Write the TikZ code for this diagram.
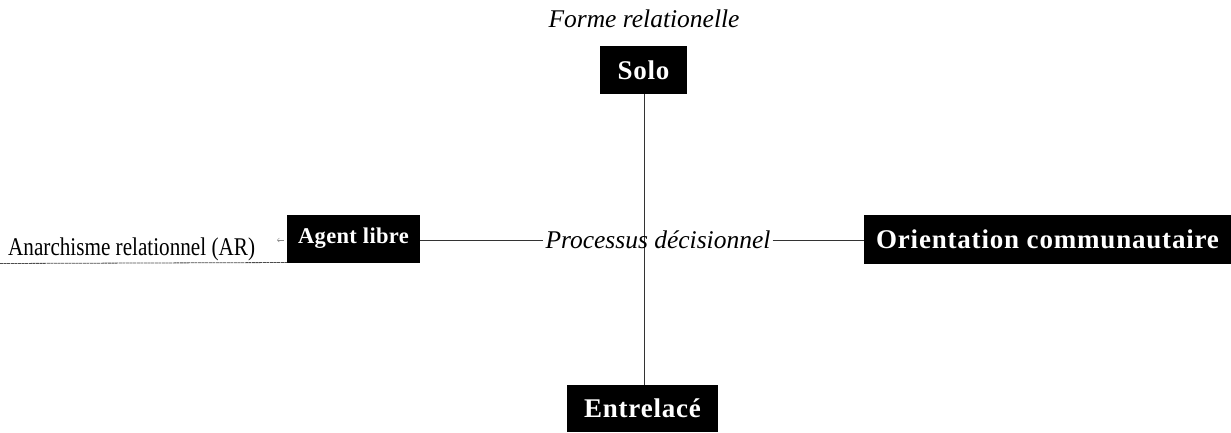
\documentclass[tikz,border=0pt]{standalone}
\usepackage{fontspec}
\usetikzlibrary{arrows.meta}
\setmainfont{Liberation Serif}
\newfontfamily\boxfont[LetterSpace=3]{Liberation Serif}
\newfontfamily\narrowfont[FakeStretch=0.83]{Liberation Serif}
\newfontfamily\agentfont[LetterSpace=1.5]{Liberation Serif}
\begin{document}
\begin{tikzpicture}[x=1bp,y=-1bp,
  blackbox/.style={fill=black,text=white,inner sep=0pt,minimum height=48bp,
     font=\boxfont\bfseries\fontsize{27bp}{30bp}\selectfont},
  itlabel/.style={inner sep=1bp,font=\itshape\fontsize{25.5bp}{28bp}\selectfont},
  conn/.style={draw=black!80,line width=0.9bp}]
\useasboundingbox (0,0) rectangle (1231,432);
\node[blackbox,minimum width=87bp] (solo) at (643.5,70) {Solo};
\node[blackbox,minimum width=133bp,font=\agentfont\bfseries\fontsize{22.5bp}{26bp}\selectfont] (agent) at (353.5,238.5) {Agent libre};
\node[blackbox,minimum width=367bp,minimum height=49bp] (orient) at (1047.5,239.5) {Orientation communautaire};
\node[blackbox,minimum width=151bp,minimum height=47bp] (entre) at (642.5,408.5) {Entrelacé};
\node[itlabel] (forme) at (644,19) {Forme relationelle};
\draw[conn] (solo.south -| 644,0) -- (entre.north -| 644,0);
\node[itlabel,inner sep=2bp] (proc) at (658,240) {Processus décisionnel};
\draw[conn] (agent.east |- proc) -- (proc.west);
\draw[conn] (proc.east) -- (orient.west |- proc);
\node[inner sep=0pt,font=\narrowfont\fontsize{25.5bp}{28bp}\selectfont,anchor=base west] (anar) at (8,255) {Anarchisme relationnel (AR)};
\coordinate (ulA) at (0,263.5);
\coordinate (ulB) at (287,262.5);
\draw[black!70,line width=0.8bp,dash pattern=on 3bp off 0.6bp] (ulA) -- (ulB);
\coordinate (arS) at (284,240);
\coordinate (arE) at (277,240);
\draw[black!45,line width=0.5bp,-{Straight Barb[length=2bp,width=4bp]}] (arS) -- (arE);
\end{tikzpicture}
\end{document}
